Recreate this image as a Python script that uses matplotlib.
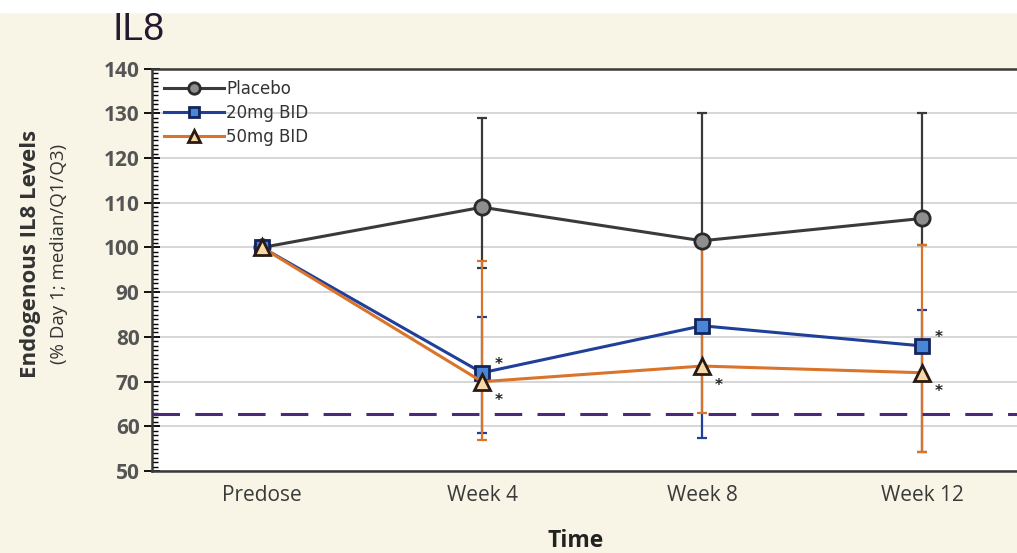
import matplotlib.pyplot as plt
from matplotlib.patches import Rectangle
from matplotlib.ticker import MultipleLocator

timepoints = ['Predose', 'Week 4', 'Week 8', 'Week 12']

placebo = [100, 109, 101.5, 106.5]
placebo_q1 = [100, 95.5, 100, 100.5]
placebo_q3 = [100, 129, 130, 130]

bid20 = [100, 72, 82.5, 78]
bid20_q1 = [100, 58.5, 57.5, 54.3]
bid20_q3 = [100, 84.5, 100, 86]

bid50 = [100, 70, 73.5, 72]
bid50_q1 = [100, 57, 63, 54.3]
bid50_q3 = [100, 97, 100, 100.5]

star20 = [False, True, False, True]
star50 = [False, True, True, True]

ref_level = 62.7

bg = '#f8f4e6'
fig = plt.figure(figsize=(10.17, 5.53), dpi=100, facecolor=bg)
fig.patches.append(Rectangle((0, 0.978), 1, 0.022, transform=fig.transFigure,
                             color='white', zorder=0))
ax = fig.add_axes([0.1495, 0.148, 0.8653, 0.728])
ax.set_facecolor('white')

x = list(range(len(timepoints)))

series = [
    ('Placebo', placebo, placebo_q1, placebo_q3, '#3a3a3a', 'o', '#8e8e8e', '#2a2a2a'),
    ('20mg BID', bid20, bid20_q1, bid20_q3, '#1f3f99', 's', '#4a86d8', '#14255e'),
    ('50mg BID', bid50, bid50_q1, bid50_q3, '#d9742a', '^', '#f6d9a6', '#2a1a10'),
]

for name, med, q1, q3, col, mk, fc, ec in series:
    lo = [m - a for m, a in zip(med, q1)]
    hi = [b - m for m, b in zip(med, q3)]
    ax.errorbar(x, med, yerr=[lo, hi], fmt='none', ecolor=col, elinewidth=1.6,
                capsize=3.5, capthick=1.6, zorder=2)

for name, med, q1, q3, col, mk, fc, ec in series:
    ax.plot(x, med, color=col, lw=2.2, marker=mk, ms=11 if mk != 's' else 10,
            mfc=fc, mec=ec, mew=2, label=name, zorder=4)

for xi, v, s in zip(x, bid20, star20):
    if s:
        ax.annotate('*', (xi, v), xytext=(9, 3), textcoords='offset points',
                    fontsize=11, fontweight='bold', color='#222', zorder=5)
for xi, v, s in zip(x, bid50, star50):
    if s:
        ax.annotate('*', (xi, v), xytext=(9, -17), textcoords='offset points',
                    fontsize=11, fontweight='bold', color='#222', zorder=5)

ax.axhline(ref_level, color='#4a2a78', lw=2.2, dashes=(9, 5), zorder=3)

ax.set_xlim(-0.5, 3.5)
ax.set_ylim(50, 140)
ax.yaxis.set_major_locator(MultipleLocator(10))
ax.yaxis.set_minor_locator(MultipleLocator(1))
ax.grid(axis='y', color='#d0d0d0', lw=1.2, zorder=0)
ax.set_axisbelow(True)
ax.set_xticks(x)
ax.set_xticklabels(timepoints)
ax.tick_params(axis='x', length=0, pad=10, labelsize=15, labelcolor='#3a3a3a')
ax.tick_params(axis='y', which='major', direction='inout', length=12, width=1.3,
               labelsize=15, labelcolor='#555', pad=3)
ax.tick_params(axis='y', which='minor', direction='in', length=4, width=1)
for lab in ax.get_yticklabels():
    lab.set_fontweight('bold')
    lab.set_family('Open Sans')
for lab in ax.get_xticklabels():
    lab.set_family('Open Sans')

for s in ['left', 'bottom', 'top']:
    ax.spines[s].set_color('#3a3a3a')
    ax.spines[s].set_linewidth(1.8)
ax.spines['right'].set_visible(False)

fig.text(0.566, 0.022, 'Time', ha='center', va='center', fontsize=16.5,
         fontweight='bold', family='Open Sans', color='#222')
fig.text(0.030, 0.54, 'Endogenous IL8 Levels', rotation=90, ha='center', va='center',
         fontsize=16, fontweight='bold', family='Open Sans', color='#333')
fig.text(0.058, 0.54, '(% Day 1; median/Q1/Q3)', rotation=90, ha='center', va='center',
         fontsize=13.5, family='Open Sans', color='#333')

fig.text(0.111, 0.946, 'IL8', fontsize=27, family='Liberation Sans', color='#241a30',
         va='center')

leg = ax.legend(loc='upper left', frameon=False, fontsize=12, handlelength=3.6,
                borderaxespad=0.3, labelspacing=0.35, handletextpad=0.15,
                markerscale=0.75)
for t in leg.get_texts():
    t.set_color('#333')

fig.savefig('out.png', dpi=100, facecolor=bg)
